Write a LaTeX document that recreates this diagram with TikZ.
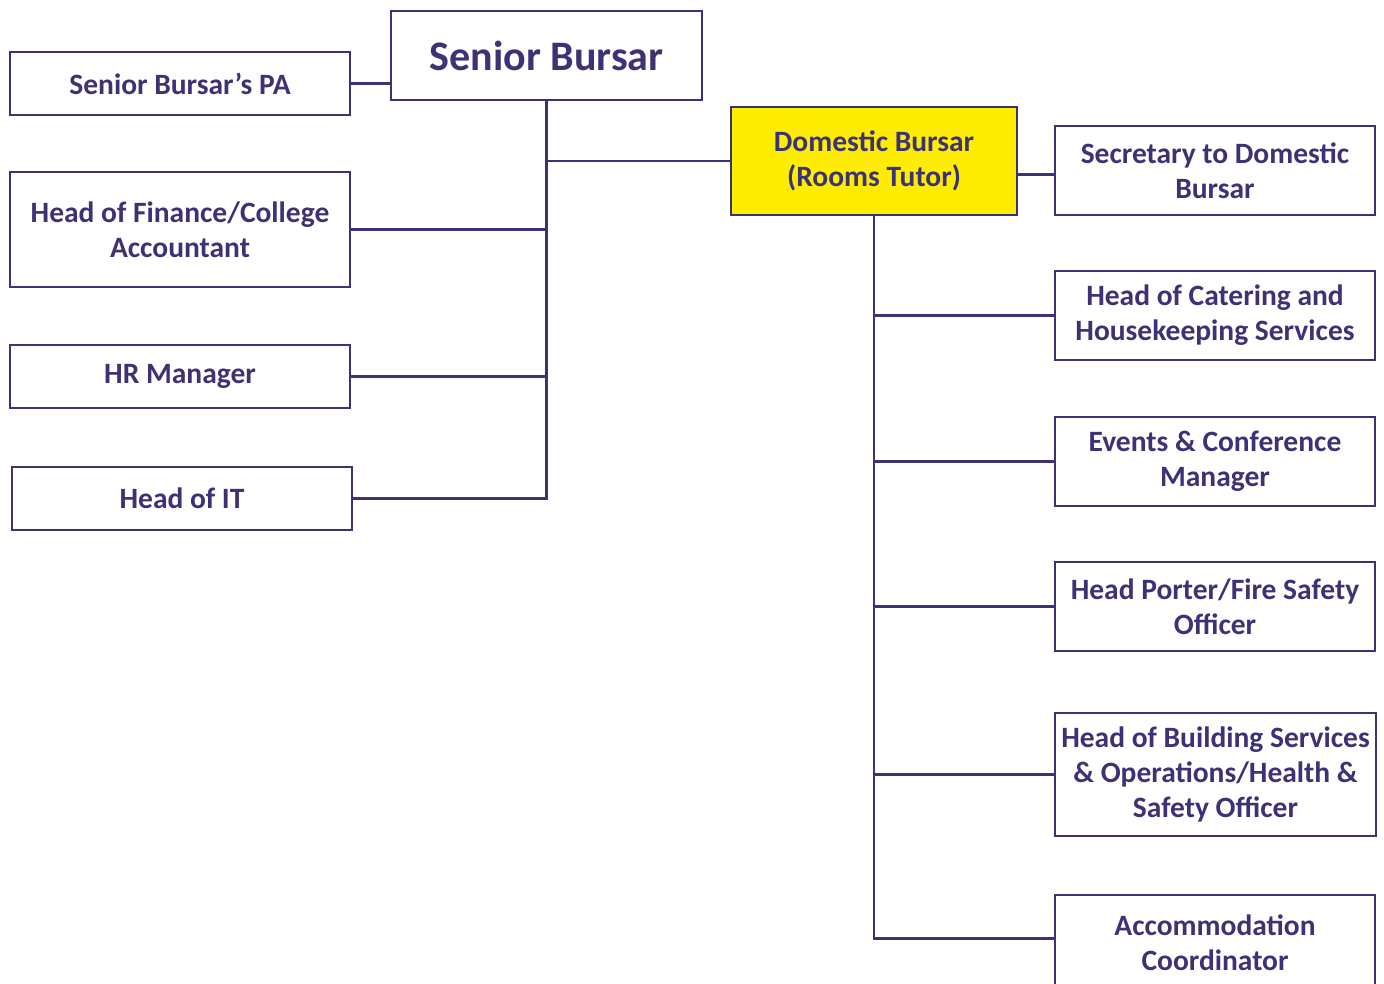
\documentclass[tikz,border=0pt]{standalone}
\usepackage{fontspec}
\setmainfont{Carlito}
\definecolor{orgline}{RGB}{60,50,118}
\definecolor{orgyellow}{RGB}{255,237,0}
\tikzset{
  post/.style={draw=orgline, line width=2.5pt, text=orgline, fill=white,
    font=\fontsize{29.5}{35}\selectfont\bfseries, align=center, inner sep=0pt,
    minimum width=340, minimum height=63},
  link/.style={draw=orgline, line width=2.5pt}
}
\begin{document}
\begin{tikzpicture}[x=1pt,y=-1pt]
  \useasboundingbox (0,0) rectangle (1384,983);
  % senior bursar side
  \node[post, minimum width=311, minimum height=89, font=\fontsize{42}{46}\selectfont\bfseries] (sb) at (546.5,55.5) {Senior Bursar};
  \node[post] (pa) at (180,83.5) {Senior Bursar’s PA};
  \node[post, minimum height=115] (fin) at (180,229.5) {Head of Finance/College\\Accountant};
  \node[post] (hr) at (180,376.5) {HR Manager};
  \node[post] (it) at (182,498.5) {Head of IT};

  % domestic bursar side
  \node[post, fill=orgyellow, minimum width=286, minimum height=108] (db) at (874,161) {Domestic Bursar\\(Rooms Tutor)};
  \node[post, minimum width=320, minimum height=89] (sec) at (1215,170.5) {Secretary to Domestic\\Bursar};
  \node[post, minimum width=320, minimum height=89] (cat) at (1215,315.5) {Head of Catering and\\Housekeeping Services};
  \node[post, minimum width=320, minimum height=89] (ev) at (1215,461.5) {Events \& Conference\\Manager};
  \node[post, minimum width=320, minimum height=89] (hp) at (1215,606.5) {Head Porter/Fire Safety\\Officer};
  \node[post, minimum width=321, minimum height=123] (bs) at (1215.5,774.5) {Head of Building Services\\\& Operations/Health \&\\Safety Officer};
  \node[post, minimum width=320, minimum height=95] (acc) at (1215,942.5) {Accommodation\\Coordinator};

  \draw[link] (pa.east) -- (pa.east -| sb.west);
  \draw[link] (sb.south) |- (it.east);
  \draw[link] (fin.east) -- (fin.east -| sb.south);
  \draw[link] (hr.east) -- (hr.east -| sb.south);
  \draw[link] (db.west) -- (db.west -| sb.south);

  \draw[link] ([yshift=-4pt]db.east |- sec.west) -- ([yshift=-4pt]sec.west);
  \draw[link] (db.south) |- ([yshift=4pt]acc.west);
  \draw[link] (cat.west) -- (cat.west -| db.south);
  \draw[link] (ev.west) -- (ev.west -| db.south);
  \draw[link] (hp.west) -- (hp.west -| db.south);
  \draw[link] (bs.west) -- (bs.west -| db.south);
\end{tikzpicture}
\end{document}
